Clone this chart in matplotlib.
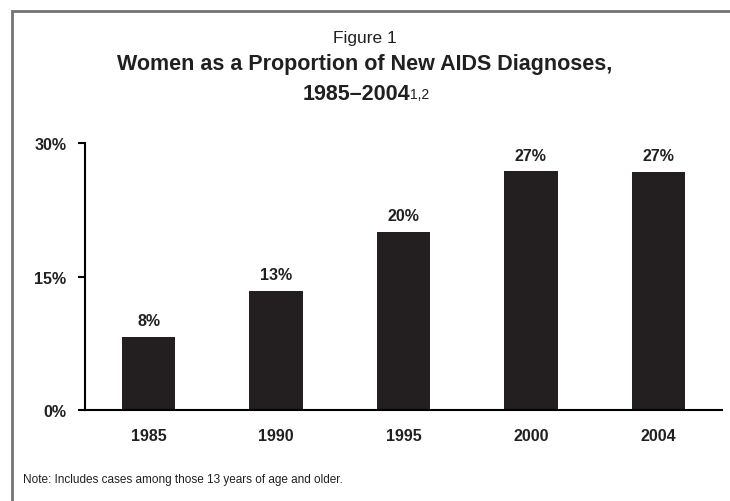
import matplotlib
matplotlib.use('Agg')
import matplotlib.pyplot as plt
from matplotlib.patches import Rectangle

plt.rcParams['font.family'] = ['Liberation Sans', 'DejaVu Sans']

years = ["1985", "1990", "1995", "2000", "2004"]
shares = [8.2, 13.4, 20.0, 26.8, 26.7]
value_labels = ["8%", "13%", "20%", "27%", "27%"]
ytick_vals = [0, 15, 30]
ytick_labels = ["0%", "15%", "30%"]

fig = plt.figure(figsize=(7.3, 5.02), dpi=100)

# grey frame, cut off at right and bottom like the source
fig.patches.append(Rectangle((0.0164, -0.1), 1.2, 1.076, transform=fig.transFigure,
                             fill=False, edgecolor='#737373', linewidth=2))

ax = fig.add_axes([0.1164, 0.1813, 0.8726, 0.5318])
x = range(len(years))
ax.bar(x, shares, width=0.42, color='#231f20')
for xi, v, lab in zip(x, shares, value_labels):
    ax.text(xi, v + 1.0, lab, ha='center', va='bottom', fontsize=11.5, fontweight='bold',
            color='#231f20')

ax.set_xlim(-0.5, 4.5)
ax.set_ylim(0, 30)
ax.set_yticks(ytick_vals)
ax.set_yticklabels(ytick_labels, fontsize=11.5, fontweight='bold', color='#231f20')
ax.set_xticks(list(x))
ax.set_xticklabels(years, fontsize=11.5, fontweight='bold', color='#231f20')
ax.tick_params(axis='x', length=0, pad=13)
ax.tick_params(axis='y', length=5, width=1.5, pad=8.5)
for side in ['top', 'right']:
    ax.spines[side].set_visible(False)
ax.spines['left'].set_linewidth(1.5)
ax.spines['bottom'].set_linewidth(1.5)

fig.text(0.5, 0.924, "Figure 1", ha='center', va='center', fontsize=12.5, color='#231f20')
fig.text(0.5, 0.872, "Women as a Proportion of New AIDS Diagnoses,",
         ha='center', va='center', fontsize=15.5, fontweight='bold', color='#231f20')
t = fig.text(0.488, 0.811, "1985\u20132004", ha='center', va='center',
             fontsize=15.5, fontweight='bold', color='#231f20')
ax.annotate("1,2", xy=(1, 0.15), xycoords=t, ha='left', va='bottom', fontsize=10,
            color='#231f20', annotation_clip=False)

fig.text(0.0315, 0.043, "Note: Includes cases among those 13 years of age and older.",
         ha='left', va='center', fontsize=8.5, color='#231f20')

fig.savefig("out.png", dpi=100)
plt.close()
